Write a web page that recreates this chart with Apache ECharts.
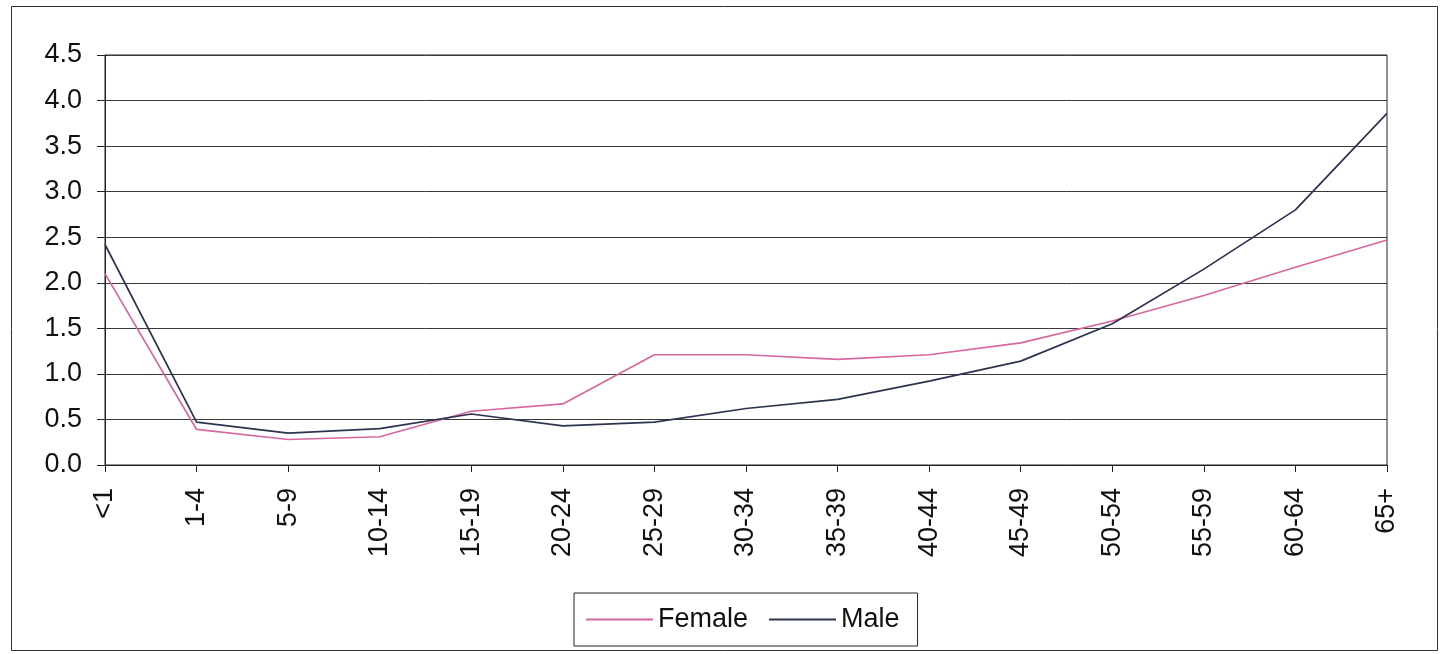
<!DOCTYPE html>
<html>
<head>
<meta charset="utf-8">
<script src="https://cdn.jsdelivr.net/npm/echarts@6/dist/echarts.min.js"></script>
<style>
  html, body { margin: 0; padding: 0; background: #fff; }
  #chart { width: 1442px; height: 654px; }
</style>
</head>
<body>
<div id="chart"></div>
<script>
// Age groups along the x axis
const ageGroups = ['<1', '1-4', '5-9', '10-14', '15-19', '20-24', '25-29', '30-34',
  '35-39', '40-44', '45-49', '50-54', '55-59', '60-64', '65+'];

// Rates by age group
const femaleRates = [2.10, 0.39, 0.28, 0.31, 0.59, 0.67, 1.21, 1.21, 1.16, 1.21, 1.34, 1.58, 1.86, 2.17, 2.47];
const maleRates   = [2.42, 0.47, 0.35, 0.40, 0.56, 0.43, 0.47, 0.62, 0.72, 0.92, 1.14, 1.55, 2.15, 2.80, 3.86];

const FONT = '"Liberation Sans", Arial, sans-serif';
const FEMALE_COLOR = '#d8679e';
const MALE_COLOR = '#2b3350';

const chart = echarts.init(document.getElementById('chart'), null, { renderer: 'canvas' });

chart.setOption({
  animation: false,
  backgroundColor: '#fff',
  graphic: [{
    type: 'rect',
    shape: { x: 11.5, y: 6.5, width: 1426, height: 644 },
    style: { fill: 'none', stroke: '#333', lineWidth: 1 },
    silent: true,
    z: -1
  }],
  grid: {
    left: 105, right: 55, top: 55, bottom: 189,
    show: true, borderColor: '#222', borderWidth: 1, backgroundColor: 'transparent'
  },
  legend: {
    left: 574, top: 593,
    orient: 'horizontal',
    data: ['Female', 'Male'],
    itemWidth: 67, itemHeight: 16, itemGap: 20,
    padding: [13, 18, 13, 11],
    borderColor: '#222', borderWidth: 1,
    itemStyle: { opacity: 0 },
    lineStyle: { width: 2 },
    textStyle: { fontFamily: FONT, fontSize: 27, color: '#111', padding: [0, 0, 0, 0] }
  },
  xAxis: {
    type: 'category',
    data: ageGroups,
    boundaryGap: false,
    axisLine: { lineStyle: { color: '#222', width: 1 } },
    axisTick: { show: true, alignWithLabel: true, length: 7, lineStyle: { color: '#222' } },
    axisLabel: {
      rotate: 90, margin: 23, interval: 0,
      fontFamily: FONT, fontSize: 27, color: '#111'
    },
    splitLine: { show: false }
  },
  yAxis: {
    type: 'value',
    min: 0, max: 4.5, interval: 0.5,
    axisLine: { show: true, lineStyle: { color: '#222', width: 1 } },
    axisTick: { show: true, length: 8, lineStyle: { color: '#222' } },
    axisLabel: {
      margin: 23, fontFamily: FONT, fontSize: 27, color: '#111',
      formatter: v => v.toFixed(1)
    },
    splitLine: { show: true, lineStyle: { color: '#3a3a3a', width: 1 } }
  },
  series: [
    {
      name: 'Female', type: 'line', data: femaleRates,
      symbol: 'none', smooth: false,
      lineStyle: { color: FEMALE_COLOR, width: 1.7 },
      itemStyle: { color: FEMALE_COLOR }
    },
    {
      name: 'Male', type: 'line', data: maleRates,
      symbol: 'none', smooth: false,
      lineStyle: { color: MALE_COLOR, width: 1.7 },
      itemStyle: { color: MALE_COLOR }
    }
  ]
});
</script>
</body>
</html>
